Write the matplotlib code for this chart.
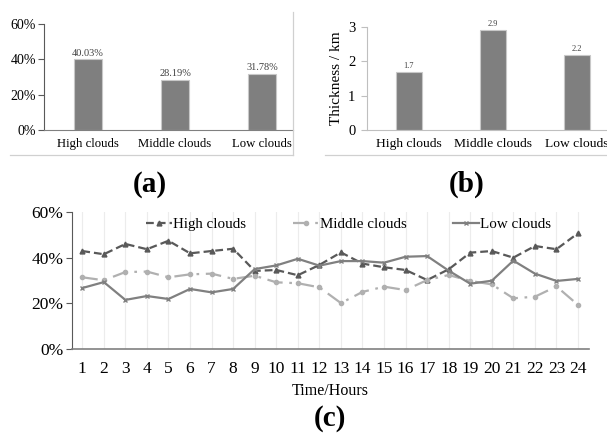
import matplotlib
matplotlib.use("Agg")
import matplotlib.pyplot as plt
from matplotlib.lines import Line2D
from matplotlib.ticker import PercentFormatter

plt.rcParams["font.family"] = ["Liberation Serif", "DejaVu Serif"]

# data
cloud_types = ["High clouds", "Middle clouds", "Low clouds"]
occurrence = [0.4003, 0.2819, 0.3178]
occurrence_labels = ["40.03%", "28.19%", "31.78%"]
thickness = [1.68, 2.9, 2.18]
thickness_labels = ["1.7", "2.9", "2.2"]

hours = list(range(1, 25))
high = [42.9, 41.5, 46.0, 43.7, 47.4, 41.9, 42.9, 43.9, 34.2, 34.6, 32.3, 36.8,
        42.3, 37.4, 35.8, 34.6, 30.2, 34.9, 42.2, 42.9, 40.0, 45.1, 43.7, 50.7]
middle = [31.4, 30.1, 33.7, 33.9, 31.4, 32.7, 33.0, 30.7, 32.1, 29.2, 28.8, 27.0,
          20.1, 25.0, 27.3, 25.8, 30.2, 32.4, 29.8, 28.3, 22.2, 22.9, 27.4, 19.3]
low = [26.7, 29.3, 21.5, 23.2, 21.9, 26.3, 24.8, 26.3, 35.0, 36.6, 39.5, 36.5,
       38.5, 38.5, 37.8, 40.4, 40.7, 34.3, 28.6, 29.9, 38.7, 33.0, 29.8, 30.7]

bar_col = "#7f7f7f"
txt_col = "#404040"

fig = plt.figure(figsize=(6.07, 4.38), dpi=100)

# ---- (a)
ax1 = fig.add_axes([0.0733, 0.7032, 0.4094, 0.242])
ax1.bar(range(3), occurrence, width=0.32, color=bar_col, edgecolor="#c8c8c8", linewidth=0.8)
for i, v in enumerate(occurrence):
    ax1.text(i, v + 0.01, occurrence_labels[i], ha="center", va="bottom", fontsize=7.5, color=txt_col)
ax1.set_xlim(-0.5, 2.356)
ax1.set_ylim(0, 0.6)
ax1.set_yticks([0, 0.2, 0.4, 0.6])
ax1.yaxis.set_major_formatter(PercentFormatter(1.0, decimals=0))
ax1.set_xticks(range(3))
ax1.set_xticklabels(cloud_types, fontsize=9.2)
ax1.tick_params(axis="x", length=0, pad=6)
ax1.tick_params(axis="y", labelsize=10, length=4, color="#595959", pad=2)
for s in ["top", "right"]:
    ax1.spines[s].set_visible(False)
ax1.spines["left"].set_color("#595959")
ax1.spines["bottom"].set_color("#808080")

# ---- (b)
ax2 = fig.add_axes([0.6041, 0.7032, 0.3959, 0.2352])
ax2.bar(range(3), thickness, width=0.31, color=bar_col, edgecolor="#c8c8c8", linewidth=0.8)
for i, v in enumerate(thickness):
    ax2.text(i, v + 0.06, thickness_labels[i], ha="center", va="bottom", fontsize=6, color=txt_col)
ax2.set_xlim(-0.5, 2.36)
ax2.set_ylim(0, 3)
ax2.set_yticks([0, 1, 2, 3])
ax2.set_xticks(range(3))
ax2.set_xticklabels(cloud_types, fontsize=9.7)
ax2.tick_params(axis="x", length=0, pad=6)
ax2.tick_params(axis="y", labelsize=10.5, length=4, color="#bfbfbf", pad=4)
ax2.set_ylabel("Thickness / km", fontsize=11, labelpad=4)
for s in ["top", "right"]:
    ax2.spines[s].set_visible(False)
ax2.spines["left"].set_color("#bfbfbf")
ax2.spines["bottom"].set_color("#bfbfbf")

# chart area borders
fig.add_artist(Line2D([293 / 607, 293 / 607], [1 - 12 / 438, 1 - 155 / 438], color="#d0d0d0", lw=0.9))
fig.add_artist(Line2D([10 / 607, 293 / 607], [1 - 155 / 438, 1 - 155 / 438], color="#d0d0d0", lw=0.9))
fig.add_artist(Line2D([325 / 607, 1], [1 - 155 / 438, 1 - 155 / 438], color="#d0d0d0", lw=0.9))

# ---- (c)
ax3 = fig.add_axes([0.1178, 0.2032, 0.8522, 0.3128])
ax3.plot(hours, high, color="#595959", ls=(0, (3.5, 1.8)), lw=1.6, marker="^", ms=3.5, label="High clouds")
ax3.plot(hours, middle, color="#b0b0b0", ls=(0, (7, 3, 1.2, 3)), lw=1.6, marker="o", ms=3, label="Middle clouds")
ax3.plot(hours, low, color="#808080", ls="-", lw=1.6, marker="x", ms=3.5, mew=1, label="Low clouds")
ax3.set_xlim(0.5, 24.5)
ax3.set_ylim(0, 60)
ax3.set_yticks([0, 20, 40, 60])
ax3.yaxis.set_major_formatter(PercentFormatter(100, decimals=0))
ax3.set_xticks(hours)
ax3.grid(axis="x", color="#ececec", lw=0.8)
ax3.tick_params(axis="x", length=0, labelsize=12.5, pad=9)
ax3.tick_params(axis="y", labelsize=12.5, length=4, color="#595959", pad=2)
for s in ["top", "right"]:
    ax3.spines[s].set_visible(False)
ax3.spines["left"].set_color("#595959")
ax3.spines["bottom"].set_color("#808080")
ax3.spines["bottom"].set_linewidth(1.2)
ax3.set_xlabel("Time/Hours", fontsize=11.5, labelpad=4)
ax3.legend(loc="upper center", bbox_to_anchor=(0.536, 1.06), ncol=3, frameon=False,
           fontsize=10.8, handlelength=1.7, handletextpad=0.1, columnspacing=3.1)

# panel letters
fig.text(150 / 607, 1 - 184 / 438, "(a)", ha="center", va="center", fontsize=21, fontweight="bold")
fig.text(467 / 607, 1 - 184 / 438, "(b)", ha="center", va="center", fontsize=21, fontweight="bold")
fig.text(330 / 607, 1 - 418 / 438, "(c)", ha="center", va="center", fontsize=21, fontweight="bold")

fig.savefig("out.png", dpi=100)
